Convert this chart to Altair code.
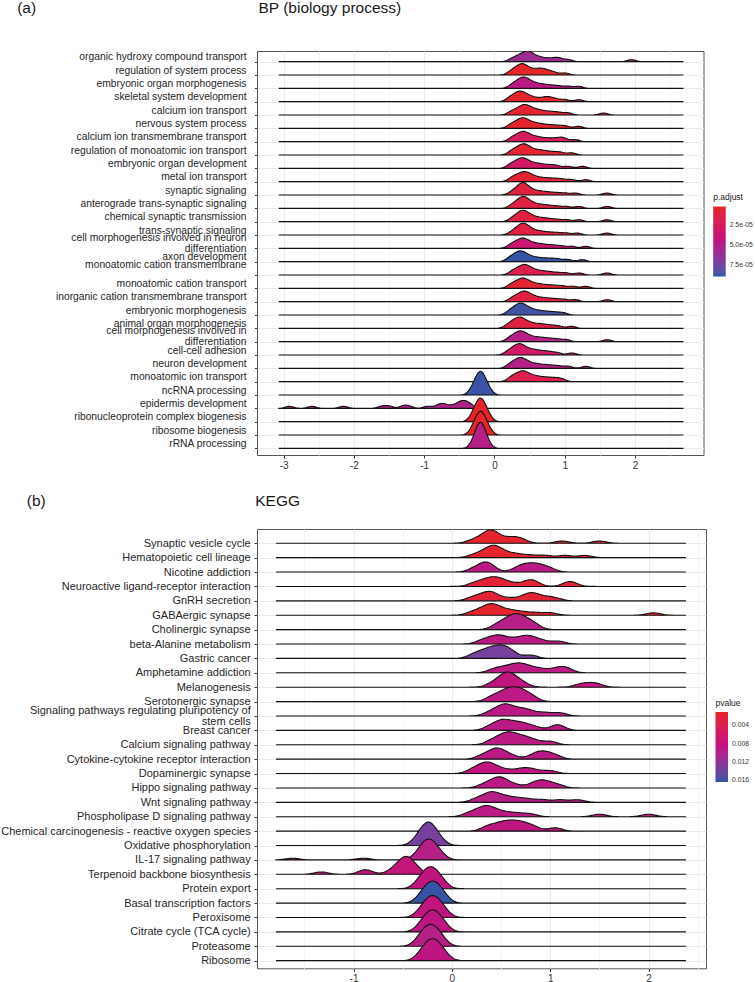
import json
import altair as alt
import pandas as pd

FONT = "Liberation Sans"

# ---------------- BP (biology process) ----------------
BP_TERMS = [
    "organic hydroxy compound transport",
    "regulation of system process",
    "embryonic organ morphogenesis",
    "skeletal system development",
    "calcium ion transport",
    "nervous system process",
    "calcium ion transmembrane transport",
    "regulation of monoatomic ion transport",
    "embryonic organ development",
    "metal ion transport",
    "synaptic signaling",
    "anterograde trans-synaptic signaling",
    "chemical synaptic transmission",
    "trans-synaptic signaling",
    "cell morphogenesis involved in neuron\ndifferentiation",
    "axon development",
    "monoatomic cation transmembrane\n",
    "monoatomic cation transport",
    "inorganic cation transmembrane transport",
    "embryonic morphogenesis",
    "animal organ morphogenesis",
    "cell morphogenesis involved in\ndifferentiation",
    "cell-cell adhesion",
    "neuron development",
    "monoatomic ion transport",
    "ncRNA processing",
    "epidermis development",
    "ribonucleoprotein complex biogenesis",
    "ribosome biogenesis",
    "rRNA processing",
]
BP_PADJ = [
    5.9e-5, 1.0e-6, 4.7e-5, 2.5e-6, 5.0e-6, 3.0e-6, 2.4e-5, 5.0e-6, 2.9e-5, 5.0e-6,
    9.5e-6, 1.1e-5, 1.1e-5, 1.1e-5, 3.6e-5, 8.9e-5, 1.6e-5, 5.0e-6, 1.1e-5, 8.7e-5,
    1.1e-5, 5.0e-5, 2.9e-5, 5.0e-5, 1.6e-5, 8.8e-5, 5.2e-5, 2.5e-6, 1.5e-6, 5.0e-5,
]
BP_VALUES = [
    [0.24, 0.3, 0.35, 0.39, 0.42, 0.45, 0.47, 0.49, 0.52, 0.55, 0.6, 0.65, 0.72, 0.8, 0.88, 0.93, 1.05, 1.95],
    [0.22, 0.27, 0.31, 0.34, 0.37, 0.39, 0.41, 0.43, 0.46, 0.5, 0.55, 0.6, 0.64, 0.68, 0.72, 0.78, 0.85, 1.0],
    [0.24, 0.29, 0.33, 0.36, 0.39, 0.41, 0.43, 0.45, 0.48, 0.52, 0.56, 0.61, 0.67, 0.74, 0.82, 0.92, 1.05, 1.2],
    [0.2, 0.25, 0.29, 0.32, 0.35, 0.37, 0.39, 0.42, 0.46, 0.5, 0.55, 0.62, 0.7, 0.75, 0.8, 0.88, 1.0, 1.2],
    [0.23, 0.28, 0.33, 0.37, 0.4, 0.42, 0.44, 0.47, 0.5, 0.54, 0.58, 0.63, 0.69, 0.76, 0.84, 0.93, 1.05, 1.55],
    [0.22, 0.27, 0.31, 0.35, 0.38, 0.4, 0.42, 0.45, 0.48, 0.52, 0.57, 0.62, 0.68, 0.75, 0.83, 0.92, 1.02, 1.2],
    [0.23, 0.28, 0.32, 0.36, 0.39, 0.41, 0.43, 0.46, 0.5, 0.54, 0.59, 0.65, 0.72, 0.8, 0.88, 0.95, 1.0, 1.15],
    [0.23, 0.28, 0.32, 0.36, 0.39, 0.41, 0.43, 0.46, 0.49, 0.53, 0.58, 0.64, 0.7, 0.77, 0.86, 0.95, 1.1],
    [0.21, 0.26, 0.3, 0.34, 0.37, 0.39, 0.41, 0.44, 0.47, 0.51, 0.56, 0.61, 0.67, 0.74, 0.82, 0.9, 1.05, 1.25],
    [0.23, 0.28, 0.32, 0.36, 0.39, 0.42, 0.44, 0.47, 0.5, 0.54, 0.59, 0.65, 0.72, 0.8, 0.88, 0.97, 1.1, 1.3],
    [0.24, 0.29, 0.33, 0.36, 0.38, 0.4, 0.41, 0.43, 0.45, 0.48, 0.52, 0.57, 0.63, 0.7, 0.78, 0.88, 1.0, 1.15, 1.6],
    [0.24, 0.29, 0.33, 0.36, 0.38, 0.4, 0.42, 0.44, 0.46, 0.49, 0.53, 0.58, 0.64, 0.71, 0.79, 0.89, 1.02, 1.2, 1.6],
    [0.24, 0.29, 0.33, 0.36, 0.38, 0.4, 0.42, 0.44, 0.47, 0.5, 0.54, 0.59, 0.65, 0.72, 0.8, 0.9, 1.03, 1.2, 1.6],
    [0.24, 0.29, 0.33, 0.36, 0.38, 0.4, 0.42, 0.44, 0.46, 0.49, 0.53, 0.58, 0.64, 0.71, 0.8, 0.9, 1.02, 1.18, 1.6],
    [0.22, 0.27, 0.31, 0.35, 0.38, 0.4, 0.42, 0.45, 0.49, 0.53, 0.58, 0.64, 0.7, 0.78, 0.86, 0.96, 1.1, 1.3],
    [0.2, 0.25, 0.29, 0.32, 0.35, 0.37, 0.39, 0.42, 0.45, 0.49, 0.54, 0.6, 0.67, 0.75, 0.83, 0.92, 1.05, 1.25],
    [0.24, 0.29, 0.33, 0.37, 0.4, 0.42, 0.44, 0.47, 0.5, 0.54, 0.59, 0.65, 0.72, 0.8, 0.9, 1.02, 1.2, 1.6],
    [0.22, 0.27, 0.31, 0.35, 0.38, 0.4, 0.42, 0.45, 0.49, 0.53, 0.58, 0.64, 0.71, 0.79, 0.88, 0.98, 1.12, 1.3],
    [0.24, 0.29, 0.33, 0.37, 0.4, 0.42, 0.44, 0.47, 0.5, 0.54, 0.59, 0.65, 0.72, 0.8, 0.89, 1.0, 1.15, 1.6],
    [0.2, 0.25, 0.29, 0.32, 0.35, 0.37, 0.39, 0.41, 0.44, 0.48, 0.52, 0.57, 0.63, 0.7, 0.78, 0.87, 0.98],
    [0.18, 0.23, 0.27, 0.3, 0.33, 0.35, 0.37, 0.39, 0.42, 0.46, 0.5, 0.55, 0.61, 0.67, 0.74, 0.82, 0.92, 1.1],
    [0.2, 0.25, 0.29, 0.32, 0.35, 0.37, 0.39, 0.42, 0.45, 0.49, 0.54, 0.6, 0.66, 0.73, 0.81, 0.9, 1.02, 1.6],
    [0.18, 0.23, 0.27, 0.3, 0.33, 0.35, 0.37, 0.39, 0.42, 0.46, 0.5, 0.55, 0.6, 0.66, 0.73, 0.8, 0.9, 1.1],
    [0.2, 0.25, 0.29, 0.32, 0.35, 0.37, 0.39, 0.42, 0.45, 0.49, 0.54, 0.6, 0.66, 0.74, 0.82, 0.92, 1.05, 1.3],
    [0.22, 0.27, 0.31, 0.35, 0.38, 0.41, 0.43, 0.46, 0.5, 0.55, 0.6, 0.66, 0.73, 0.8, 0.88, 0.96],
    [-0.32, -0.28, -0.25, -0.23, -0.21, -0.2, -0.19, -0.17, -0.15, -0.12, -0.08],
    [-2.92, -2.6, -2.15, -1.6, -1.5, -1.3, -1.22, -0.95, -0.8, -0.75, -0.7, -0.6, -0.52, -0.48, -0.45, -0.42, -0.38, -0.33],
    [-0.32, -0.28, -0.25, -0.23, -0.21, -0.2, -0.19, -0.17, -0.15, -0.12, -0.08],
    [-0.31, -0.28, -0.25, -0.22, -0.21, -0.2, -0.19, -0.17, -0.14, -0.12, -0.08],
    [-0.3, -0.27, -0.24, -0.22, -0.21, -0.2, -0.19, -0.18, -0.16, -0.13, -0.1],
]

# ---------------- KEGG ----------------
KEGG_TERMS = [
    "Synaptic vesicle cycle",
    "Hematopoietic cell lineage",
    "Nicotine addiction",
    "Neuroactive ligand-receptor interaction",
    "GnRH secretion",
    "GABAergic synapse",
    "Cholinergic synapse",
    "beta-Alanine metabolism",
    "Gastric cancer",
    "Amphetamine addiction",
    "Melanogenesis",
    "Serotonergic synapse",
    "Signaling pathways regulating pluripotency of\nstem cells",
    "Breast cancer",
    "Calcium signaling pathway",
    "Cytokine-cytokine receptor interaction",
    "Dopaminergic synapse",
    "Hippo signaling pathway",
    "Wnt signaling pathway",
    "Phospholipase D signaling pathway",
    "Chemical carcinogenesis - reactive oxygen species",
    "Oxidative phosphorylation",
    "IL-17 signaling pathway",
    "Terpenoid backbone biosynthesis",
    "Protein export",
    "Basal transcription factors",
    "Peroxisome",
    "Citrate cycle (TCA cycle)",
    "Proteasome",
    "Ribosome",
]
KEGG_PVAL = [
    0.0015, 0.0015, 0.0090, 0.0020, 0.0020, 0.0015, 0.0095, 0.0090, 0.0135, 0.0090,
    0.0085, 0.0090, 0.0090, 0.0090, 0.0090, 0.0090, 0.0085, 0.0090, 0.0095, 0.0090,
    0.0088, 0.0135, 0.0095, 0.0080, 0.0085, 0.0162, 0.0085, 0.0088, 0.0095, 0.0088,
]
KEGG_VALUES = [
    [0.2, 0.28, 0.33, 0.36, 0.38, 0.4, 0.42, 0.44, 0.48, 0.56, 0.62, 0.66, 0.72, 1.12, 1.5],
    [0.22, 0.3, 0.35, 0.39, 0.41, 0.43, 0.45, 0.48, 0.53, 0.6, 0.68, 0.8, 0.95, 1.15, 1.35],
    [0.22, 0.3, 0.34, 0.37, 0.4, 0.66, 0.72, 0.77, 0.82, 0.87, 0.92, 1.0],
    [0.22, 0.3, 0.36, 0.4, 0.44, 0.48, 0.53, 0.62, 0.76, 0.8, 0.85, 1.18, 1.22],
    [0.2, 0.28, 0.34, 0.38, 0.41, 0.45, 0.58, 0.72, 0.78, 0.82, 0.86, 0.95, 1.05],
    [0.2, 0.28, 0.33, 0.37, 0.4, 0.42, 0.45, 0.5, 0.56, 0.63, 0.72, 0.85, 1.0, 2.05],
    [0.45, 0.52, 0.57, 0.61, 0.64, 0.67, 0.7, 0.74, 0.79, 0.85],
    [0.3, 0.38, 0.44, 0.48, 0.52, 0.6, 0.68, 0.74, 0.78, 0.83, 0.92, 1.08],
    [0.22, 0.3, 0.36, 0.41, 0.45, 0.49, 0.53, 0.57, 0.62, 0.8],
    [0.42, 0.5, 0.57, 0.63, 0.67, 0.71, 0.76, 0.83, 0.92, 1.05, 1.12, 1.18],
    [0.4, 0.47, 0.51, 0.54, 0.56, 0.58, 0.6, 0.63, 0.67, 0.74, 1.3, 1.4, 1.48],
    [0.4, 0.48, 0.54, 0.58, 0.62, 0.66, 0.7, 0.75, 0.82],
    [0.38, 0.46, 0.51, 0.54, 0.57, 0.62, 0.69, 0.74, 0.82, 0.95, 1.1],
    [0.38, 0.46, 0.5, 0.54, 0.58, 0.64, 0.7, 0.75, 0.85, 1.05, 1.1],
    [0.4, 0.48, 0.53, 0.57, 0.6, 0.65, 0.71, 0.76, 0.85, 1.0],
    [0.3, 0.38, 0.43, 0.46, 0.49, 0.53, 0.62, 0.82, 0.88, 0.93, 0.98, 1.06],
    [0.2, 0.27, 0.32, 0.35, 0.38, 0.42, 0.48, 0.58, 0.7, 0.76, 0.85, 1.0],
    [0.32, 0.4, 0.45, 0.48, 0.51, 0.55, 0.65, 0.82, 0.88, 0.93, 0.98, 1.08],
    [0.24, 0.32, 0.37, 0.4, 0.43, 0.47, 0.53, 0.6, 0.68, 0.78, 0.92, 1.1, 1.28],
    [0.16, 0.24, 0.29, 0.33, 0.36, 0.39, 0.43, 0.5, 0.58, 0.68, 0.8, 1.5, 2.0],
    [0.35, 0.43, 0.5, 0.55, 0.6, 0.65, 0.7, 0.76, 0.84, 1.05],
    [-0.36, -0.32, -0.29, -0.27, -0.25, -0.24, -0.23, -0.21, -0.19, -0.16, -0.12],
    [-1.62, -0.9, -0.36, -0.33, -0.31, -0.29, -0.28, -0.27, -0.26, -0.25, -0.24, -0.23,
     -0.22, -0.21, -0.2, -0.19, -0.17, -0.15, -0.13, -0.11],
    [-1.33, -0.9, -0.86, -0.62, -0.56, -0.52, -0.5, -0.48, -0.47, -0.46, -0.44, -0.42, -0.39, -0.35],
    [-0.34, -0.31, -0.28, -0.26, -0.24, -0.23, -0.21, -0.19, -0.17, -0.15, -0.12, -0.1],
    [-0.32, -0.29, -0.26, -0.24, -0.22, -0.21, -0.19, -0.17, -0.15, -0.13, -0.1, -0.08],
    [-0.32, -0.29, -0.26, -0.24, -0.22, -0.21, -0.19, -0.17, -0.15, -0.13, -0.1, -0.08],
    [-0.32, -0.29, -0.26, -0.24, -0.22, -0.21, -0.19, -0.17, -0.15, -0.13, -0.1, -0.08],
    [-0.34, -0.31, -0.28, -0.26, -0.24, -0.23, -0.21, -0.19, -0.17, -0.15, -0.12, -0.1],
    [-0.32, -0.29, -0.26, -0.24, -0.22, -0.21, -0.19, -0.17, -0.15, -0.13, -0.1, -0.08],
]

# colour scale: low value (red) at the top of the colour bar, high value (blue) at the bottom
BP_COLOR_STOPS = [1.0e-6, 2.325e-5, 4.55e-5, 6.775e-5, 9.0e-5]
KEGG_COLOR_STOPS = [0.0011, 0.004925, 0.00875, 0.012575, 0.0164]
COLOR_RANGE = ["#E52628", "#D81B5E", "#BE1581", "#87359A", "#2E55A5"]


def long_table(terms, pvals, values):
    n = len(terms)
    rows = []
    for i, (p, vs) in enumerate(zip(pvals, values)):
        for v in vs:
            rows.append({"key": f"r{i:02d}", "pos": n - 1 - i, "pval": p, "val": v})
    return pd.DataFrame(rows)


def panel(terms, pvals, values, *, x_domain, extent, bw, y_domain, width, height,
          stops, legend_title, legend_values, legend_fmt, legend_x, legend_y,
          label_size, label_baseline, label_pad, tick_size, line_height, multi_shift,
          grid_vals, title, tag, title_x, tag_x, text_y, hscale):
    df = long_table(terms, pvals, values)
    n = len(terms)
    labels = [t.split("\n") for t in reversed(terms)]
    label_expr = json.dumps(labels) + "[datum.value]"
    multi_pos = [n - 1 - i for i, t in enumerate(terms) if "\n" in t]
    multi_test = " || ".join(f"datum.value === {p}" for p in multi_pos) or "false"

    x_axis = alt.Axis(
        values=grid_vals, title=None, grid=True, domain=False,
        labelExpr="datum.value % 1 === 0 ? '' + datum.value : ''",
        labelOverlap=False, labelFontSize=10, labelColor="#333333", labelFont=FONT,
        labelPadding=2, tickSize=3, tickColor="#333333",
        tickOpacity={"condition": {"test": "datum.value % 1 !== 0", "value": 0}, "value": 1},
        gridColor={"condition": {"test": "datum.value % 1 !== 0", "value": "#F5F5F5"}, "value": "#EBEBEB"},
    )
    y_axis = alt.Axis(
        values=list(range(n)), title=None, grid=True, gridColor="#EBEBEB", domain=False,
        labelExpr=label_expr, labelOverlap=False, labelBound=False, labelFlush=False,
        labelBaseline=label_baseline, labelFontSize=label_size, labelLineHeight=line_height,
        labelColor="#262626", labelFont=FONT, labelPadding=label_pad, labelLimit=400,
        labelOffset={"condition": {"test": multi_test, "value": multi_shift}, "value": 0},
        tickSize=tick_size, tickColor="#333333",
    )

    neg_stops = [-s for s in reversed(stops)]
    neg_range = list(reversed(COLOR_RANGE))

    ridges = alt.Chart(df).transform_density(
        "val", groupby=["key", "pos", "pval"], bandwidth=bw, extent=extent,
        steps=400, as_=["xv", "density"],
    ).transform_calculate(
        yv=f"datum.pos + datum.density * {hscale}",
        negp="-datum.pval",
    ).mark_area(clip=True, stroke="#111111", strokeWidth=1.1, fillOpacity=1).encode(
        x=alt.X("xv:Q", scale=alt.Scale(domain=x_domain, nice=False, zero=False), axis=x_axis),
        y=alt.Y("yv:Q", scale=alt.Scale(domain=y_domain, nice=False, zero=False), axis=y_axis),
        y2=alt.Y2("pos:Q"),
        detail="key:N",
        color=alt.Color(
            "negp:Q",
            scale=alt.Scale(domain=neg_stops, range=neg_range, interpolate="lab", clamp=True),
            legend=alt.Legend(
                title=legend_title, values=[-v for v in legend_values],
                labelExpr=legend_fmt,
                orient="none", legendX=legend_x, legendY=legend_y, direction="vertical",
                gradientLength=70, gradientThickness=12.5, gradientStrokeWidth=0,
                titleFontSize=8.5, titleFontWeight="normal", titleColor="#1a1a1a", titleFont=FONT,
                titlePadding=5, labelFontSize=6.8, labelColor="#333333", labelFont=FONT,
                labelOffset=4,
            ),
        ),
    )

    title_df = pd.DataFrame({"t": [title]})
    tag_df = pd.DataFrame({"t": [tag]})
    title_mark = alt.Chart(title_df).mark_text(
        align="left", baseline="alphabetic", font=FONT, fontSize=15.5, color="#1a1a1a"
    ).encode(text="t:N", x=alt.value(title_x), y=alt.value(text_y))
    tag_mark = alt.Chart(tag_df).mark_text(
        align="left", baseline="alphabetic", font=FONT, fontSize=15.5, color="#1a1a1a"
    ).encode(text="t:N", x=alt.value(tag_x), y=alt.value(text_y))

    return alt.layer(ridges, title_mark, tag_mark).properties(width=width, height=height)


bp = panel(
    BP_TERMS, BP_PADJ, BP_VALUES,
    x_domain=[-3.38, 2.975], extent=[-3.07, 2.69], bw=0.06,
    y_domain=[-0.5, 29.8], width=446.5, height=404,
    stops=BP_COLOR_STOPS, legend_title="p.adjust", legend_values=[2.5e-5, 5e-5, 7.5e-5],
    legend_fmt="replace(format(-datum.value, '.1e'), 'e-', 'e-0')",
    legend_x=456.2, legend_y=142,
    label_size=10.3, label_baseline="bottom", label_pad=8.5, tick_size=2.5, line_height=11,
    multi_shift=-6,
    grid_vals=[-3, -2.5, -2, -1.5, -1, -0.5, 0, 0.5, 1, 1.5, 2, 2.5],
    title="BP (biology process)", tag="(a)", title_x=1.5, tag_x=-239.8, text_y=-38.5,
    hscale=0.405,
)

kegg = panel(
    KEGG_TERMS, KEGG_PVAL, KEGG_VALUES,
    x_domain=[-1.982, 2.584], extent=[-1.79, 2.38], bw=0.07,
    y_domain=[-0.53, 29.99], width=449, height=439.3,
    stops=KEGG_COLOR_STOPS, legend_title="pvalue", legend_values=[0.004, 0.008, 0.012, 0.016],
    legend_fmt="format(-datum.value, '.3f')",
    legend_x=458.5, legend_y=169.5,
    label_size=11, label_baseline="middle", label_pad=3.8, tick_size=3, line_height=11.5,
    multi_shift=-5.75,
    grid_vals=[-1.5, -1, -0.5, 0, 0.5, 1, 1.5, 2, 2.5],
    title="KEGG", tag="(b)", title_x=-1.8, tag_x=-230.2, text_y=-23.5,
    hscale=0.40,
)

chart = alt.vconcat(bp, kegg, spacing=74, bounds="flush").resolve_scale(
    color="independent", x="independent", y="independent"
).properties(
    padding={"left": 0, "top": 0, "right": 0, "bottom": 0},
    background="white",
).configure_view(
    stroke="#555555", strokeWidth=1
)

chart.save("out.html", embed_options={"renderer": "svg", "actions": False})
